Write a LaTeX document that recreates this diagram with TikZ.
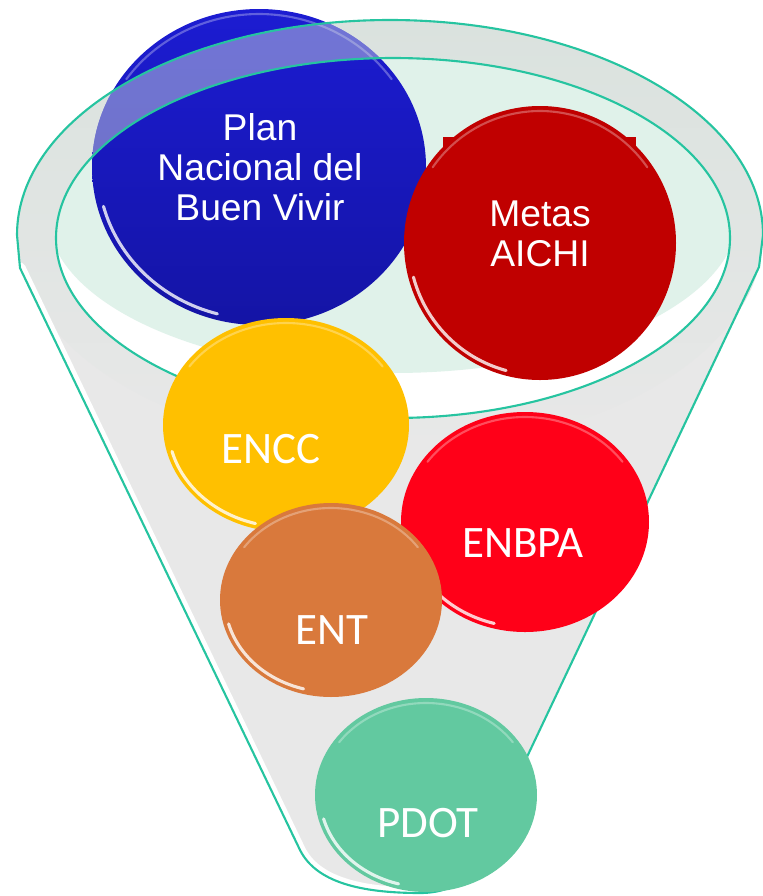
\documentclass[tikz,border=0pt]{standalone}
\usepackage{fontspec}
\newfontfamily\arialfont{Liberation Sans}
\newfontfamily\calfont{Carlito}
\definecolor{rimteal}{RGB}{38,196,160}
\definecolor{funnelgray}{RGB}{232,232,232}
\definecolor{rimband}{RGB}{218,226,222}
\definecolor{rimmint}{RGB}{224,242,234}
\definecolor{planblue}{RGB}{28,28,210}
\definecolor{planbluedark}{RGB}{20,20,165}
\definecolor{metasred}{RGB}{192,0,0}
\definecolor{enccyellow}{RGB}{255,192,0}
\definecolor{enbpared}{RGB}{255,0,24}
\definecolor{entorange}{RGB}{217,121,60}
\definecolor{pdotgreen}{RGB}{98,201,160}

\begin{document}
\begin{tikzpicture}[line cap=round,line join=round,x=0.025cm,y=-0.025cm,
  gloss/.style={white,line width=2.2pt,opacity=.8},
  shine/.style={white,line width=1.5pt,opacity=.3},
  balltext/.style={white,align=center,inner sep=0pt},
  arialtext/.style={balltext,font=\arialfont\fontsize{26.5}{28.5}\selectfont},
  caltext/.style={balltext,font=\calfont\fontsize{32}{36}\selectfont}]
\useasboundingbox (0,0) rectangle (763,896);
% funnel body and rim
\fill[funnelgray] (17,235) -- (20,268) -- (300,850) .. controls (316,882) and (360,893) .. (420,893) .. controls (460,893) and (480,870) .. (490,835) -- (759,267) -- (763,235) arc[start angle=360,end angle=180,x radius=373,y radius=215] -- cycle;
\shade[top color=rimband,bottom color=funnelgray] (390,235) ellipse[x radius=373,y radius=215];
\begin{scope}
\clip (17,235) -- (20,268) -- (300,850) .. controls (316,882) and (360,893) .. (420,893) .. controls (460,893) and (480,870) .. (490,835) -- (759,267) -- cycle;
\draw[white,line width=8] (20,268) -- (300,850) .. controls (316,882) and (360,893) .. (420,893);
\end{scope}
\fill[white] (393,238) ellipse[x radius=337,y radius=180];
\begin{scope}
\clip (393,238) ellipse[x radius=337,y radius=180];
\fill[rimmint] (393,215) ellipse[x radius=345,y radius=158];
\end{scope}
% Plan Nacional
\begin{scope}[shift={(259,167)}]
\shade[top color=planblue,bottom color=planbluedark] (0,0) ellipse[x radius=167,y radius=158];
\draw[gloss] (105:{161} and {152}) arc[start angle=105,end angle=165,x radius=161,y radius=152];
\draw[shine] (215:{162} and {153}) arc[start angle=215,end angle=325,x radius=162,y radius=153];
\end{scope}
\begin{scope}
\clip (259,167) ellipse[x radius=167,y radius=158];
\fill[rimband,opacity=.45,even odd rule] (390,235) ellipse[x radius=373,y radius=215] (393,238) ellipse[x radius=337,y radius=180];
\end{scope}
% rim lines
\draw[rimteal,line width=1.5] (17,235) -- (20,268) -- (300,850) .. controls (316,882) and (360,893) .. (420,893) .. controls (460,893) and (480,870) .. (490,835) -- (759,267) -- (763,235) arc[start angle=360,end angle=180,x radius=373,y radius=215] -- cycle;
\draw[rimteal,line width=1.5] (393,238) ellipse[x radius=337,y radius=180];
% the other balls
\fill[metasred] (443,137) rectangle (636,332);
\foreach \cx/\cy/\rx/\ry/\col in {540/243/136/137/metasred,286/425/123/107/enccyellow,525/522/124/110/enbpared,331/600/111/97/entorange,426/795/111/97/pdotgreen}{
  \pgfmathsetmacro\gx{\rx-5}
  \pgfmathsetmacro\gy{\ry-5}
  \begin{scope}[shift={(\cx,\cy)}]
  \fill[\col] (0,0) ellipse[x radius=\rx,y radius=\ry];
  \draw[gloss] (105:{\gx} and {\gy}) arc[start angle=105,end angle=165,x radius=\gx,y radius=\gy];
  \draw[shine] (215:{\gx} and {\gy}) arc[start angle=215,end angle=325,x radius=\gx,y radius=\gy];
  \end{scope}
}
% labels
\node[arialtext] (plan) at (260,167) {Plan\\Nacional del\\Buen Vivir};
\node[arialtext] (metas) at (540,234) {Metas\\AICHI};
\node[caltext] (encc) at (271,449) {ENCC};
\node[caltext] (enbpa) at (523,543) {ENBPA};
\node[caltext] (ent) at (332,630) {ENT};
\node[caltext] (pdot) at (428,823) {PDOT};
\end{tikzpicture}
\end{document}
